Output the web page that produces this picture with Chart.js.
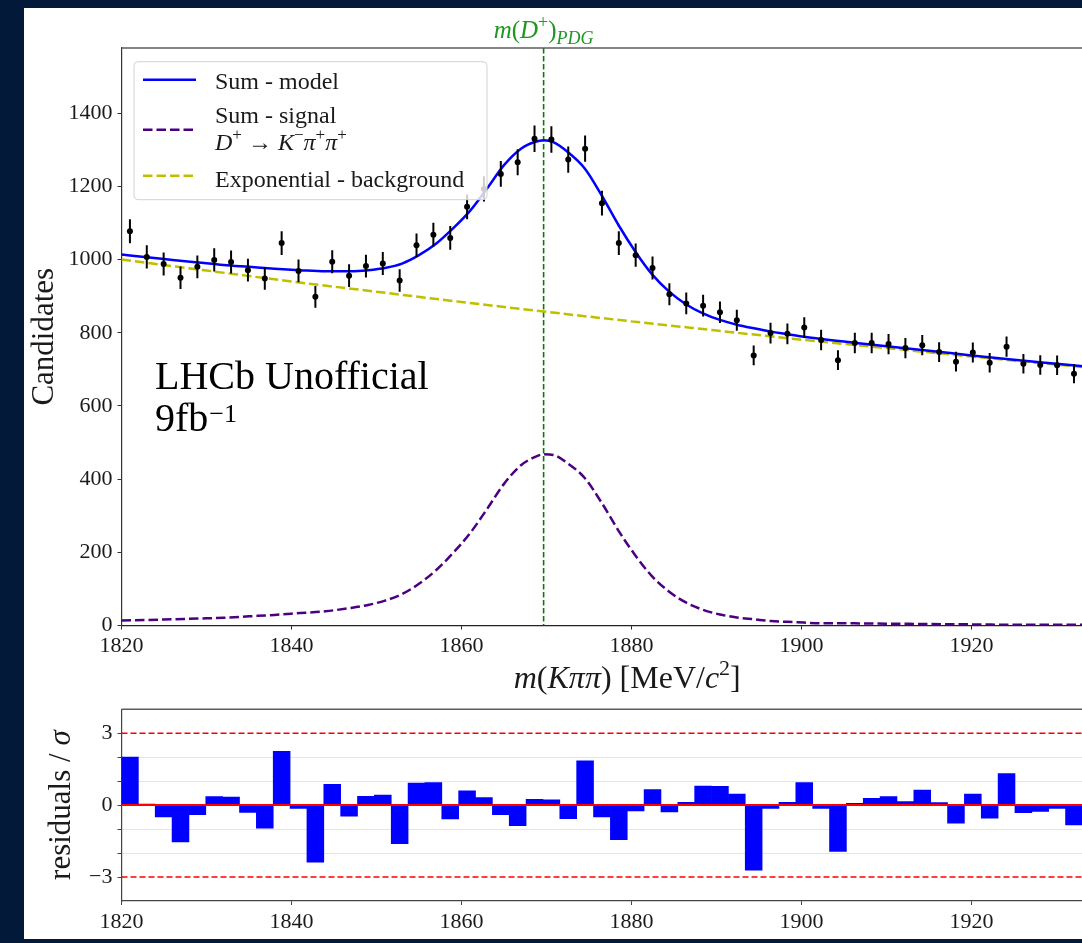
<!DOCTYPE html>
<html>
<head>
<meta charset="utf-8">
<title>D+ -> K pi pi mass fit</title>
<script src="https://cdn.jsdelivr.net/npm/chart.js@4.4.1/dist/chart.umd.min.js"></script>
<style>
    html, body {
        margin: 0;
        padding: 0;
        width: 1082px;
        height: 943px;
        overflow: hidden;
        background: #03193a;
    }
    #sheet {
        position: absolute;
        left: 24px;
        top: 8px;
        width: 1200px;
        height: 931px;
        background: #ffffff;
    }
    #fitCanvas  { position: absolute; left: 24px; top: 8px; }
    #pullCanvas { position: absolute; left: 24px; top: 691px; }
</style>
</head>
<body>
<div id="sheet"></div>
<canvas id="fitCanvas" width="1130" height="690"></canvas>
<canvas id="pullCanvas" width="1130" height="248"></canvas>

<script>
// ==========================================================
// HISTOGRAM: m(K pi pi) candidates, bins of ~2 MeV
// ==========================================================
const massMin  = 1820;
const massMax  = 1939;
const binWidth = 1.9833;
const pdgMass  = 1869.66;

const massTicks  = [1820, 1840, 1860, 1880, 1900, 1920];
const yieldTicks = [0, 200, 400, 600, 800, 1000, 1200, 1400];
const yieldMax   = 1578;
const pullMajor  = [-3, 0, 3];
const pullMinor  = [-2, -1, 1, 2];
const pullLimit  = 3;

const counts = [
    1077, 1007, 988, 950, 980, 999, 993, 971, 948, 1045,
    969, 898, 994, 956, 982, 989, 943, 1039, 1068, 1059,
    1144, 1193, 1234, 1266, 1330, 1328, 1273, 1303, 1154, 1045,
    1012, 977, 905, 880, 874, 856, 834, 738, 799, 797,
    814, 780, 725, 772, 772, 769, 758, 766, 747, 721,
    746, 718, 762, 715, 712, 711, 688, 736
];

const countErr = [
    32.8, 31.7, 31.4, 30.8, 31.3, 31.6, 31.5, 31.2, 30.8, 32.3,
    31.1, 30.0, 31.5, 30.9, 31.3, 31.4, 30.7, 32.2, 32.7, 32.5,
    33.8, 34.5, 35.1, 35.6, 36.5, 36.4, 35.7, 36.1, 34.0, 32.3,
    31.8, 31.3, 30.1, 29.7, 29.6, 29.3, 28.9, 27.2, 28.3, 28.2,
    28.5, 27.9, 26.9, 27.8, 27.8, 27.7, 27.5, 27.7, 27.3, 26.9,
    27.3, 26.8, 27.6, 26.7, 26.7, 26.7, 26.2, 27.1
];

const pulls = [
    2.00, 0.04, -0.49, -1.54, -0.40, 0.36, 0.33, -0.31, -0.96, 2.24,
    -0.14, -2.38, 0.87, -0.46, 0.37, 0.42, -1.61, 0.92, 0.94, -0.58,
    0.60, 0.31, -0.40, -0.86, 0.24, 0.22, -0.57, 1.85, -0.49, -1.44,
    -0.24, 0.65, -0.28, 0.12, 0.79, 0.78, 0.46, -2.71, -0.14, 0.12,
    0.94, -0.14, -1.93, 0.07, 0.28, 0.36, 0.15, 0.63, 0.10, -0.75,
    0.46, -0.54, 1.31, -0.32, -0.26, -0.14, -0.83, 1.30
];

// bin centres along the mass axis
const binCenters = counts.map((_, i) => massMin + (i + 0.5) * binWidth);

// ==========================================================
// FIT CURVES (sampled)
// ==========================================================
const curveMass = [
    1820, 1823, 1826, 1829, 1832, 1835, 1838, 1841, 1844, 1847,
    1849, 1851, 1853, 1855, 1857, 1859, 1861, 1863, 1865, 1867,
    1868.6, 1869.7, 1870.8, 1872.5, 1874.5, 1876.5, 1878.5, 1880.5, 1882.4, 1884.4,
    1886.4, 1888.4, 1890.4, 1892.4, 1894.4, 1896.4, 1898.4, 1900.3, 1902.3, 1905,
    1910, 1915, 1920, 1925, 1930, 1935, 1940
];

const modelYield = [
    1014, 1006, 999, 992, 985, 980, 975, 971, 968, 968,
    971, 977, 989, 1012, 1043, 1085, 1133, 1194, 1258, 1303,
    1321, 1326, 1321, 1294, 1249, 1175, 1093, 1020, 960, 913,
    878, 853, 835, 822, 812, 803, 796, 789, 783, 776,
    763, 751, 738, 726, 715, 704, 693
];

const signalYield = [
    14, 15, 17, 19, 21, 25, 29, 34, 39, 48,
    56, 68, 86, 114, 151, 198, 252, 318, 387, 438,
    460, 468, 466, 443, 403, 335, 258, 190, 135, 93,
    63, 43, 30, 22, 17, 12, 10, 8, 6, 6,
    5, 4, 3, 2, 2, 2, 1
];

const bkgMass  = [1820, 1830, 1840, 1850, 1860, 1870, 1880, 1890, 1900, 1910, 1920, 1930, 1940];
const bkgYield = [1000, 970, 940, 912, 884, 857, 831, 806, 781, 758, 735, 713, 692];

// ==========================================================
// STYLE
// ==========================================================
const SERIF = '"Liberation Serif", "Times New Roman", serif';
const TICK_FONT = { family: SERIF, size: 22 };
const TEXT_COLOR = '#1a1a1a';

const toPoints = (xs, ys) => xs.map((x, i) => ({ x: x, y: ys[i] }));

function runFont(r, size) {
    const s = (r.sup || r.sub) ? Math.round(size * 0.7) : size;
    return (r.it ? 'italic ' : '') + s + 'px ' + SERIF;
}

// draws a line of mixed roman / italic / super- and subscript pieces
function drawRuns(ctx, runs, x, y, size, align) {
    let total = 0;
    runs.forEach(r => {
        ctx.font = runFont(r, size);
        total += ctx.measureText(r.t).width;
    });
    let cx = align === 'center' ? x - total / 2 : x;
    ctx.textAlign = 'left';
    runs.forEach(r => {
        ctx.font = runFont(r, size);
        const dy = r.sup ? -0.4 * size : (r.sub ? 0.22 * size : 0);
        ctx.fillText(r.t, cx, y + dy);
        cx += ctx.measureText(r.t).width;
    });
}

function drawRotated(ctx, runs, cx, cy, size) {
    ctx.save();
    ctx.translate(cx, cy);
    ctx.rotate(-Math.PI / 2);
    ctx.textBaseline = 'middle';
    drawRuns(ctx, runs, 0, 0, size, 'center');
    ctx.restore();
}

function topSpine(chart) {
    const { ctx, chartArea } = chart;
    ctx.save();
    ctx.strokeStyle = '#5c5c5c';
    ctx.lineWidth = 1.5;
    ctx.beginPath();
    ctx.moveTo(chartArea.left, chartArea.top);
    ctx.lineTo(chartArea.right, chartArea.top);
    ctx.stroke();
    ctx.restore();
}

// ==========================================================
// PLUGIN: decorations of the mass fit panel
// ==========================================================
const fitDecor = {
    id: 'fitDecor',
    beforeDatasetsDraw(chart) {
        const { ctx, chartArea, scales: { x } } = chart;
        const px = x.getPixelForValue(pdgMass);
        ctx.save();
        ctx.strokeStyle = '#0a7a0a';
        ctx.lineWidth = 1.6;
        ctx.setLineDash([5.5, 2.5]);
        ctx.beginPath();
        ctx.moveTo(px, chartArea.top);
        ctx.lineTo(px, chartArea.bottom);
        ctx.stroke();
        ctx.restore();
    },
    afterDatasetsDraw(chart) {
        const { ctx, chartArea, scales: { x, y } } = chart;
        const top = chartArea.top;
        const left = chartArea.left;

        // error bars of the data points
        ctx.save();
        ctx.beginPath();
        ctx.rect(chartArea.left, chartArea.top, chartArea.right - chartArea.left, chartArea.bottom - chartArea.top);
        ctx.clip();
        ctx.strokeStyle = '#000';
        ctx.lineWidth = 2;
        binCenters.forEach((m, i) => {
            const px = x.getPixelForValue(m);
            ctx.beginPath();
            ctx.moveTo(px, y.getPixelForValue(counts[i] - countErr[i]));
            ctx.lineTo(px, y.getPixelForValue(counts[i] + countErr[i]));
            ctx.stroke();
        });
        ctx.restore();

        // legend box
        ctx.save();
        ctx.beginPath();
        ctx.roundRect(left + 12.5, top + 13.7, 353, 138, 4);
        ctx.fillStyle = 'rgba(255,255,255,0.8)';
        ctx.fill();
        ctx.strokeStyle = '#d2d2d2';
        ctx.lineWidth = 1;
        ctx.stroke();

        const handle = (yy, color, dash) => {
            ctx.strokeStyle = color;
            ctx.lineWidth = 2.5;
            ctx.setLineDash(dash);
            ctx.beginPath();
            ctx.moveTo(left + 21.5, top + yy);
            ctx.lineTo(left + 74.5, top + yy);
            ctx.stroke();
        };
        handle(31.7, '#0000ff', []);
        handle(81.7, '#4b0082', [9.5, 4]);
        handle(127.7, '#bfbf00', [9.5, 4]);
        ctx.setLineDash([]);

        ctx.fillStyle = TEXT_COLOR;
        ctx.textBaseline = 'alphabetic';
        const tx = left + 93.5;
        drawRuns(ctx, [{ t: 'Sum - model' }], tx, top + 40.7, 24);
        drawRuns(ctx, [{ t: 'Sum - signal' }], tx, top + 74.7, 24);
        drawRuns(ctx, [
            { t: 'D', it: true }, { t: '+', sup: true },
            { t: ' \u2192 ' },
            { t: 'K', it: true }, { t: '\u2212', sup: true },
            { t: '\u03c0', it: true }, { t: '+', sup: true },
            { t: '\u03c0', it: true }, { t: '+', sup: true }
        ], tx, top + 101.7, 24);
        drawRuns(ctx, [{ t: 'Exponential - background' }], tx, top + 138.7, 24);

        // experiment label
        ctx.fillStyle = '#000';
        drawRuns(ctx, [{ t: 'LHCb Unofficial' }], left + 33.5, top + 341, 40);
        ctx.font = '40px ' + SERIF;
        ctx.fillText('9fb', left + 33.5, top + 383.4);
        const w9 = ctx.measureText('9fb').width;
        ctx.font = '26px ' + SERIF;
        ctx.fillText('\u22121', left + 33.5 + w9 + 1, top + 373.5);
        ctx.restore();
    },
    afterDraw(chart) {
        const { ctx, chartArea, scales: { x } } = chart;
        topSpine(chart);
        ctx.save();
        ctx.fillStyle = '#1f961f';
        ctx.textBaseline = 'alphabetic';
        drawRuns(ctx, [
            { t: 'm', it: true }, { t: '(' }, { t: 'D', it: true }, { t: '+', sup: true },
            { t: ')' }, { t: 'PDG', it: true, sub: true }
        ], x.getPixelForValue(pdgMass), chartArea.top - 10, 25, 'center');

        ctx.fillStyle = TEXT_COLOR;
        drawRuns(ctx, [
            { t: 'm', it: true }, { t: '(' }, { t: 'K\u03c0\u03c0', it: true }, { t: ') [MeV/' },
            { t: 'c', it: true }, { t: '2', sup: true }, { t: ']' }
        ], (chartArea.left + chartArea.right) / 2, chartArea.bottom + 62, 32, 'center');

        drawRotated(ctx, [{ t: 'Candidates' }], 21, (chartArea.top + chartArea.bottom) / 2, 31);
        ctx.restore();
    }
};

// ==========================================================
// PLUGIN: reference lines of the pull panel
// ==========================================================
const pullDecor = {
    id: 'pullDecor',
    afterDatasetsDraw(chart) {
        const { ctx, chartArea, scales: { y } } = chart;
        ctx.save();
        ctx.strokeStyle = '#ff0000';
        ctx.lineWidth = 1.5;
        ctx.setLineDash([6, 3]);
        [-pullLimit, pullLimit].forEach(v => {
            const py = y.getPixelForValue(v);
            ctx.beginPath();
            ctx.moveTo(chartArea.left, py);
            ctx.lineTo(chartArea.right, py);
            ctx.stroke();
        });
        ctx.setLineDash([]);
        ctx.lineWidth = 2;
        const p0 = y.getPixelForValue(0);
        ctx.beginPath();
        ctx.moveTo(chartArea.left, p0);
        ctx.lineTo(chartArea.right, p0);
        ctx.stroke();
        ctx.restore();
    },
    afterDraw(chart) {
        const { ctx, chartArea } = chart;
        topSpine(chart);
        ctx.save();
        ctx.fillStyle = TEXT_COLOR;
        drawRotated(ctx, [{ t: 'residuals / ' }, { t: '\u03c3', it: true }], 38, (chartArea.top + chartArea.bottom) / 2, 31);
        ctx.restore();
    }
};

// ==========================================================
// CHART 1: MASS FIT
// ==========================================================
const fitChart = new Chart(document.getElementById('fitCanvas'), {
    type: 'scatter',
    data: {
        datasets: [
            {
                label: 'Data',
                data: toPoints(binCenters, counts),
                pointRadius: 3,
                pointBackgroundColor: '#000',
                pointBorderWidth: 0,
                order: 0
            },
            {
                label: 'Sum - model',
                data: toPoints(curveMass, modelYield),
                showLine: true,
                borderColor: '#0000ff',
                borderWidth: 2.5,
                pointRadius: 0,
                cubicInterpolationMode: 'monotone',
                order: 1
            },
            {
                label: 'Sum - signal',
                data: toPoints(curveMass, signalYield),
                showLine: true,
                borderColor: '#4b0082',
                borderWidth: 2.5,
                borderDash: [9.5, 4],
                pointRadius: 0,
                cubicInterpolationMode: 'monotone',
                order: 3
            },
            {
                label: 'Exponential - background',
                data: toPoints(bkgMass, bkgYield),
                showLine: true,
                borderColor: '#bfbf00',
                borderWidth: 2.5,
                borderDash: [9.5, 4],
                pointRadius: 0,
                cubicInterpolationMode: 'monotone',
                order: 2
            }
        ]
    },
    options: {
        responsive: false,
        devicePixelRatio: 1,
        animation: false,
        layout: { padding: { top: 40, right: 21, left: 0, bottom: 0 } },
        plugins: { legend: { display: false }, tooltip: { enabled: false } },
        scales: {
            x: {
                type: 'linear',
                min: massMin,
                max: massMax,
                afterBuildTicks: s => { s.ticks = massTicks.map(v => ({ value: v })); },
                afterFit: s => { s.height = 72.5; },
                ticks: { font: TICK_FONT, color: TEXT_COLOR, padding: 4, maxRotation: 0, callback: v => String(v) },
                grid: { drawOnChartArea: false, tickLength: 4, color: '#222' },
                border: { color: '#222', width: 1.2 }
            },
            y: {
                min: 0,
                max: yieldMax,
                afterBuildTicks: s => { s.ticks = yieldTicks.map(v => ({ value: v })); },
                afterFit: s => { s.width = 97.5; },
                ticks: { font: TICK_FONT, color: TEXT_COLOR, padding: 5, callback: v => String(v) },
                grid: { drawOnChartArea: false, tickLength: 4, color: '#333' },
                border: { color: '#333', width: 1.2 }
            }
        }
    },
    plugins: [fitDecor]
});

// ==========================================================
// CHART 2: PULLS
// ==========================================================
const pullChart = new Chart(document.getElementById('pullCanvas'), {
    type: 'bar',
    data: {
        datasets: [{
            label: 'residuals',
            data: toPoints(binCenters, pulls),
            backgroundColor: '#0000ff',
            borderWidth: 0,
            categoryPercentage: 1.0,
            barPercentage: 1.0
        }]
    },
    options: {
        responsive: false,
        devicePixelRatio: 1,
        animation: false,
        layout: { padding: { top: 18, right: 21, left: 0, bottom: 0 } },
        plugins: { legend: { display: false }, tooltip: { enabled: false } },
        scales: {
            x: {
                type: 'linear',
                offset: false,
                min: massMin,
                max: massMax,
                afterBuildTicks: s => { s.ticks = massTicks.map(v => ({ value: v })); },
                afterFit: s => { s.height = 38; },
                ticks: { font: TICK_FONT, color: TEXT_COLOR, padding: 4, maxRotation: 0, callback: v => String(v) },
                grid: { offset: false, drawOnChartArea: false, tickLength: 4, color: '#444' },
                border: { color: '#444', width: 1.2 }
            },
            y: {
                min: -4,
                max: 4,
                afterBuildTicks: s => {
                    s.ticks = pullMajor.concat(pullMinor).sort((a, b) => a - b).map(v => ({ value: v }));
                },
                afterFit: s => { s.width = 97.5; },
                ticks: {
                    font: TICK_FONT,
                    color: TEXT_COLOR,
                    padding: 5,
                    callback: v => pullMajor.includes(v) ? String(v).replace('-', '\u2212') : ''
                },
                grid: {
                    tickLength: 4,
                    color: c => pullMinor.includes(c.tick.value) ? '#e4e4e4' : 'rgba(0,0,0,0)',
                    tickColor: '#444',
                    lineWidth: 1
                },
                border: { color: '#444', width: 1.2 }
            }
        }
    },
    plugins: [pullDecor]
});
</script>
</body>
</html>
